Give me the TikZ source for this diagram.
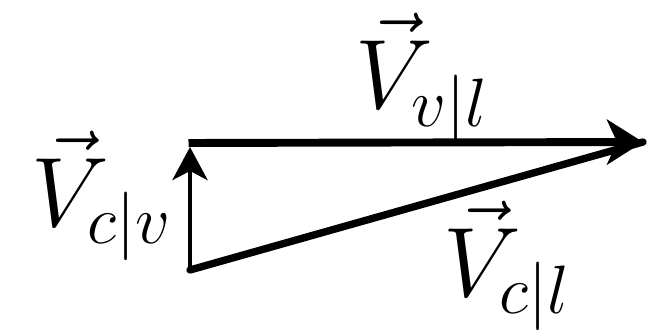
\documentclass[tikz,border=0pt]{standalone}
\usepackage{amsmath}
\usepackage{tikz}
\usetikzlibrary{arrows.meta}

\begin{document}
\begin{tikzpicture}[
  lbl/.style={font=\LARGE, scale=3.25, transform shape},
  vec/.style={-{Stealth[length=0.72cm, width=0.9cm, inset=0.2cm]}, line width=4.5pt},
  small vec/.style={-{Stealth[length=0.66cm, width=0.7cm, inset=0.18cm]}, line width=2.6pt}
]
  \useasboundingbox (0,0) rectangle (12.96,6.62);

  % Corners of the triangle
  \coordinate (base) at (3.8,1.22);
  \coordinate (top)  at (3.8,3.76);
  \coordinate (tip)  at (12.86,3.78);

  % Vectors
  \draw[line width=4.2pt, line cap=round] (base) -- (tip);
  \draw[small vec] (base) -- ([yshift=-0.08cm]top);
  \draw[vec] ([xshift=-0.03cm]top) -- (tip);

  % Labels
  \node[lbl] (vvl) at (8.45,5.05) {$\vec{V}_{v|l}$};
  \node[lbl] (vcv) at (2.05,2.7)  {$\vec{V}_{c|v}$};
  \node[lbl] (vcl) at (10.15,1.3) {$\vec{V}_{c|l}$};
\end{tikzpicture}
\end{document}
